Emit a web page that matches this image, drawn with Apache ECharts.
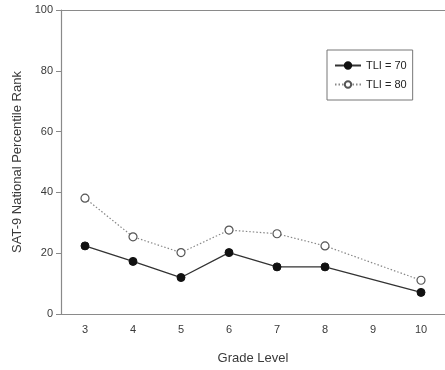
<!DOCTYPE html>
<html>
<head>
<meta charset="utf-8">
<script src="https://cdn.jsdelivr.net/npm/echarts@6/dist/echarts.min.js"></script>
<style>
  html, body { margin: 0; padding: 0; background: #fff; }
  #chart { width: 445px; height: 370px; }
</style>
</head>
<body>
<div id="chart"></div>
<script>
// grade levels on x, grade 9 has no measurement
const grades = ["3", "4", "5", "6", "7", "8", "9", "10"];
const tli70 = [22.4, 17.3, 12.0, 20.2, 15.5, 15.5, "-", 7.1];
const tli80 = [38.1, 25.4, 20.2, 27.6, 26.4, 22.4, "-", 11.1];
const yTicks = [0, 20, 40, 60, 80, 100];

const chart = echarts.init(document.getElementById("chart"));

const axisGrey = "#8a8a8a";
const textCol = "#3a3a3a";
const font = "Liberation Sans, Arial, sans-serif";

chart.setOption({
  animation: false,
  grid: { left: 61, right: -3, top: 10, bottom: 54 },
  legend: {
    orient: "vertical",
    left: 327,
    top: 50,
    padding: [10, 6, 10, 7],
    itemGap: 8,
    itemWidth: 26,
    itemHeight: 8,
    borderColor: "#777",
    borderWidth: 1,
    textStyle: { fontFamily: font, fontSize: 11, color: "#222" },
    data: ["TLI = 70", "TLI = 80"]
  },
  xAxis: [
    {
      type: "category",
      data: grades,
      boundaryGap: true,
      name: "Grade Level",
      nameLocation: "middle",
      nameGap: 38,
      nameTextStyle: { fontFamily: font, fontSize: 13, color: textCol },
      axisLine: { lineStyle: { color: axisGrey, width: 1.2 } },
      axisTick: { alignWithLabel: true, length: 5, lineStyle: { color: axisGrey } },
      axisLabel: { fontFamily: font, fontSize: 11, color: textCol, margin: 10 },
      splitLine: { show: false }
    },
    {
      type: "category",
      data: grades,
      position: "top",
      axisLine: { lineStyle: { color: axisGrey, width: 1.2 } },
      axisTick: { show: false },
      axisLabel: { show: false }
    }
  ],
  yAxis: {
    type: "value",
    min: yTicks[0],
    max: yTicks[yTicks.length - 1],
    interval: 20,
    name: "SAT-9 National Percentile Rank",
    nameLocation: "middle",
    nameGap: 37,
    nameTextStyle: { fontFamily: font, fontSize: 13, color: textCol },
    axisLine: { show: true, lineStyle: { color: axisGrey, width: 1.2 } },
    axisTick: { show: true, length: 5, lineStyle: { color: axisGrey } },
    axisLabel: { fontFamily: font, fontSize: 11, color: textCol, margin: 8 },
    splitLine: { show: false }
  },
  series: [
    {
      name: "TLI = 70",
      type: "line",
      data: tli70,
      connectNulls: true,
      symbol: "circle",
      symbolSize: 8,
      lineStyle: { color: "#333", width: 1.3 },
      itemStyle: { color: "#111", borderColor: "#111", borderWidth: 1 },
      z: 3
    },
    {
      name: "TLI = 80",
      type: "line",
      data: tli80,
      connectNulls: true,
      symbol: "circle",
      symbolSize: 8,
      lineStyle: { color: "#888", width: 1.2, type: [1.5, 2] },
      itemStyle: { color: "#fff", borderColor: "#555", borderWidth: 1.2 },
      z: 2
    }
  ]
});
</script>
</body>
</html>
